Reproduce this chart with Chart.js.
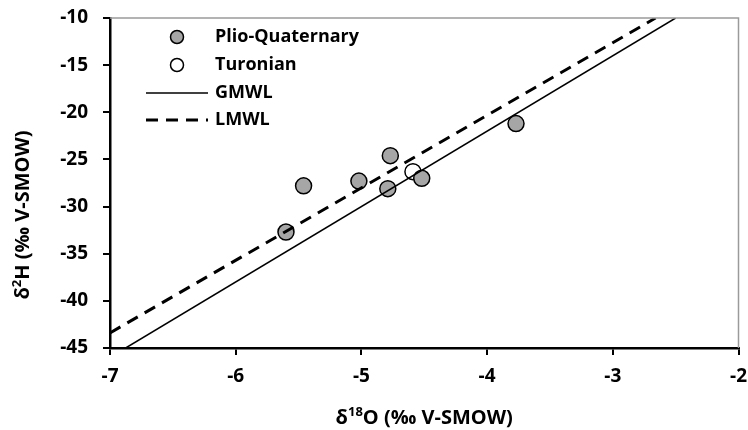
<!DOCTYPE html>
<html>
<head>
<meta charset="utf-8">
<script src="https://cdn.jsdelivr.net/npm/chart.js@4"></script>
<style>
  html, body { margin: 0; padding: 0; background: #fff; }
  #wrap { width: 748px; height: 430px; }
</style>
</head>
<body>
<div id="wrap"><canvas id="isoChart"></canvas></div>
<script>
// data
const plioX = [-5.46, -5.02, -4.77, -4.79, -4.52, -5.60, -3.77];
const plioY = [-27.8, -27.3, -24.6, -28.1, -27.0, -32.7, -21.2];
const turX = [-4.59];
const turY = [-26.3];
const gmwlX = [-6.875, -2.5];
const gmwlY = [-45, -10];
const lmwlX = [-7, -2.66];
const lmwlY = [-43.4, -10];
const xTicks = [-7, -6, -5, -4, -3, -2];
const yTicks = [-45, -40, -35, -30, -25, -20, -15, -10];

const FONT = "'Open Sans', sans-serif";
const toPts = (xs, ys) => xs.map((x, i) => ({ x: x, y: ys[i] }));

// legend + axis titles + gray frame
const extras = {
    id: "extras",
    afterDraw(chart) {
        const c = chart.ctx;
        const a = chart.chartArea;
        c.save();
        c.strokeStyle = "#9a9a9a";
        c.lineWidth = 1.5;
        c.beginPath();
        c.moveTo(a.left, a.top);
        c.lineTo(a.right, a.top);
        c.lineTo(a.right, a.bottom);
        c.stroke();

        // legend
        const lx = 177, tx = 215;
        const rows = [37, 65, 93, 120];
        c.font = "bold 18px " + FONT;
        c.fillStyle = "#000";
        c.textBaseline = "middle";
        c.lineWidth = 1.5;
        c.strokeStyle = "#000";
        c.beginPath(); c.arc(lx, rows[0], 6.5, 0, Math.PI * 2);
        c.fillStyle = "#a6a6a6"; c.fill(); c.stroke();
        c.beginPath(); c.arc(lx, rows[1], 6.5, 0, Math.PI * 2);
        c.fillStyle = "#fff"; c.fill(); c.stroke();
        c.beginPath(); c.moveTo(146, rows[2]); c.lineTo(208, rows[2]); c.stroke();
        c.lineWidth = 3;
        c.setLineDash([12, 8]);
        c.beginPath(); c.moveTo(146, rows[3]); c.lineTo(208, rows[3]); c.stroke();
        c.setLineDash([]);
        c.fillStyle = "#000";
        c.textAlign = "left";
        c.fillText("Plio-Quaternary", tx, rows[0]);
        c.fillText("Turonian", tx, rows[1]);
        c.fillText("GMWL", tx, rows[2]);
        c.fillText("LMWL", tx, rows[3]);

        // axis titles with superscripts
        const drawTitle = (parts, cx, cy) => {
            const big = "bold 20px " + FONT, small = "bold 13px " + FONT;
            let w = 0;
            parts.forEach(p => { c.font = p.sup ? small : big; w += c.measureText(p.t).width; });
            let x = cx - w / 2;
            c.textAlign = "left";
            c.textBaseline = "alphabetic";
            parts.forEach(p => {
                c.font = p.sup ? small : big;
                c.fillText(p.t, x, p.sup ? cy - 8 : cy);
                x += c.measureText(p.t).width;
            });
        };
        drawTitle([{ t: "δ" }, { t: "18", sup: true }, { t: "O (‰ V-SMOW)" }], (a.left + a.right) / 2, 424);
        c.save();
        c.translate(29, 215);
        c.rotate(-Math.PI / 2);
        drawTitle([{ t: "δ" }, { t: "2", sup: true }, { t: "H (‰ V-SMOW)" }], 0, 0);
        c.restore();
        c.restore();
    }
};

const ctx = document.getElementById("isoChart").getContext("2d");

new Chart(ctx, {
    type: "scatter",
    data: {
        datasets: [
            {
                label: "GMWL",
                data: toPts(gmwlX, gmwlY),
                showLine: true,
                borderColor: "#000",
                borderWidth: 1.5,
                pointRadius: 0,
                order: 0,
            },
            {
                label: "LMWL",
                data: toPts(lmwlX, lmwlY),
                showLine: true,
                borderColor: "#000",
                borderWidth: 3,
                borderDash: [12, 8],
                pointRadius: 0,
                order: 0,
            },
            {
                label: "Plio-Quaternary",
                data: toPts(plioX, plioY),
                backgroundColor: "#a6a6a6",
                borderColor: "#000",
                borderWidth: 1.5,
                pointRadius: 8,
                order: 1,
            },
            {
                label: "Turonian",
                data: toPts(turX, turY),
                backgroundColor: "#fff",
                borderColor: "#000",
                borderWidth: 1.5,
                pointRadius: 8,
                order: 1,
            },
        ],
    },
    options: {
        responsive: true,
        maintainAspectRatio: false,
        animation: false,
        layout: { padding: { top: 12, right: 0, left: 0, bottom: 0 } },
        plugins: {
            legend: { display: false },
            tooltip: { enabled: false },
        },
        scales: {
            x: {
                type: "linear",
                min: -7,
                max: -2,
                afterBuildTicks: s => { s.ticks = xTicks.map(v => ({ value: v })); },
                afterFit: s => { s.height = 82; s.paddingRight = 9; },
                ticks: {
                    color: "#000",
                    font: { family: FONT, size: 19, weight: "bold" },
                    padding: 10,
                    maxRotation: 0,
                },
                grid: { drawOnChartArea: false, color: "#000", lineWidth: 2, tickLength: 7 },
                border: { color: "#000", width: 2.5 },
            },
            y: {
                type: "linear",
                min: -45,
                max: -10,
                afterBuildTicks: s => { s.ticks = yTicks.map(v => ({ value: v })); },
                afterFit: s => { s.width = 110; s.paddingTop = 18; },
                ticks: {
                    color: "#000",
                    font: { family: FONT, size: 19, weight: "bold" },
                    padding: 15,
                },
                grid: { drawOnChartArea: false, color: "#000", lineWidth: 2, tickLength: 7 },
                border: { color: "#000", width: 2.5 },
            },
        },
    },
    plugins: [extras],
});
</script>
</body>
</html>
